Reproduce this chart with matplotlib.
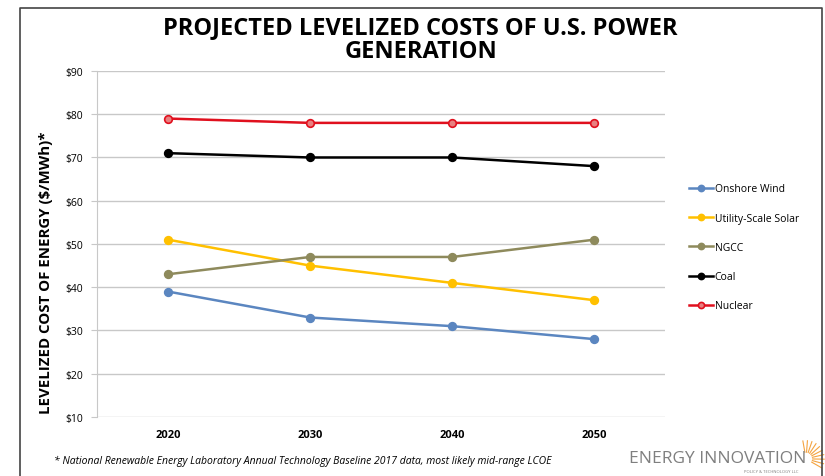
import matplotlib.pyplot as plt
import numpy as np

years = ["2020", "2030", "2040", "2050"]
wind = [39, 33, 31, 28]
solar = [51, 45, 41, 37]
ngcc = [43, 47, 47, 51]
coal = [71, 70, 70, 68]
nuclear = [79, 78, 78, 78]
names = ["Onshore Wind", "Utility-Scale Solar", "NGCC", "Coal", "Nuclear"]
yticks = [10, 20, 30, 40, 50, 60, 70, 80, 90]

plt.rcParams["font.family"] = ["Open Sans", "DejaVu Sans"]

fig = plt.figure(figsize=(8.25, 4.77), dpi=100)
ax = fig.add_axes([0.1176, 0.1237, 0.689, 0.7254])

x = np.arange(len(years))
series = [wind, solar, ngcc, coal, nuclear]
colors = ["#5B86C0", "#FFC000", "#8E8A5C", "#000000", "#E0101E"]
faces = ["#5B86C0", "#FFC000", "#8E8A5C", "#000000", "#E88080"]
for vals, name, c, f in zip(series, names, colors, faces):
    ax.plot(x, vals, color=c, lw=1.8, marker="o", ms=5.5,
            markerfacecolor=f, markeredgecolor=c, markeredgewidth=1.2, label=name)

ax.set_xlim(-0.5, 3.5)
ax.set_ylim(10, 90)
ax.set_xticks(x)
ax.set_xticklabels(years, fontsize=8, fontweight="bold")
ax.set_yticks(yticks)
ax.set_yticklabels(["$%d" % v for v in yticks], fontsize=7.5)
ax.grid(axis="y", color="#C8C8C8", lw=1)
ax.set_axisbelow(True)
for s in ["top", "right", "bottom"]:
    ax.spines[s].set_visible(False)
ax.spines["left"].set_color("#C8C8C8")
ax.tick_params(axis="x", length=0, pad=9)
ax.tick_params(axis="y", length=4, color="#C8C8C8", pad=6)

ax.set_ylabel("LEVELIZED COST OF ENERGY ($/MWh)*", fontsize=10.8, fontweight="bold")
ax.yaxis.set_label_coords(-0.078, 0.42)

leg = ax.legend(loc="center left", bbox_to_anchor=(1.025, 0.49), frameon=False,
                fontsize=7.5, handlelength=2.3, handletextpad=0.15, labelspacing=1.75,
                markerscale=0.8)

fig.text(0.51, 0.916, "PROJECTED LEVELIZED COSTS OF U.S. POWER\nGENERATION",
         ha="center", va="center", fontsize=17, fontweight="bold", linespacing=1.0)

fig.text(0.066, 0.02, "* National Renewable Energy Laboratory Annual Technology Baseline 2017 data, most likely mid-range LCOE",
         fontsize=7.5, style="italic", ha="left", va="bottom")

# logo text and sunburst
fig.text(0.762, 0.022, "ENERGY INNOVATION", fontsize=12.5, color="#7F7F7F", ha="left", va="bottom")
fig.text(0.968, 0.006, "POLICY & TECHNOLOGY LLC", fontsize=3, color="#7F7F7F", ha="right", va="bottom")
cx, cy = 0.977, 0.036
for a in np.linspace(-30, 100, 10):
    r = np.deg2rad(a)
    fig.add_artist(plt.Line2D([cx + 0.008 * np.cos(r), cx + 0.022 * np.cos(r)],
                              [cy + 0.014 * np.sin(r), cy + 0.038 * np.sin(r)],
                              color="#F4A340", lw=0.8, transform=fig.transFigure))

# outer frame: left, top, right edges
fx0, fx1, fy1 = 0.0242, 0.9964, 0.981
fig.add_artist(plt.Line2D([fx0, fx0, fx1, fx1], [0, fy1, fy1, 0],
                          color="#444444", lw=1.2, transform=fig.transFigure))

plt.savefig("out.png", dpi=100)
